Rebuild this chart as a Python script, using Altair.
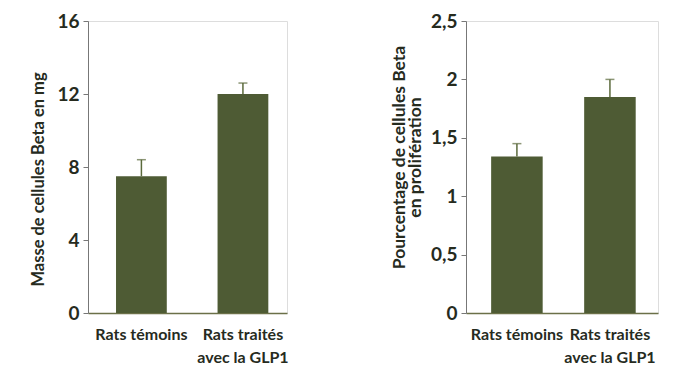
import altair as alt
import pandas as pd

categories = ["Rats témoins", "Rats traités|avec la GLP1"]
masse = [7.5, 12.0]
masse_err_top = [8.4, 12.6]
prolif = [1.34, 1.85]
prolif_err_top = [1.45, 2.0]

df1 = pd.DataFrame({"cat": categories, "val": masse, "top": masse_err_top})
df2 = pd.DataFrame({"cat": categories, "val": prolif, "top": prolif_err_top})

BAR = "#4e5b34"
ERR = "#5b6a3c"
TXT = "#262b1e"
FONT = "Lato"


def panel(df, width, ymax, yticks, title, pi, po, align, tx, ty, tfs):
    x = alt.X(
        "cat:N",
        sort=categories,
        scale=alt.Scale(paddingInner=pi, paddingOuter=po, align=align),
        axis=alt.Axis(
            title=None,
            labelAngle=0,
            labelExpr="split(datum.label, '|')",
            ticks=False,
            domainColor="#6b7048",
            domainWidth=1.5,
            labelFont=FONT,
            labelFontSize=16,
            labelFontWeight="bold",
            labelColor=TXT,
            labelPadding=13,
            labelLineHeight=23,
        ),
    )
    y = alt.Y(
        "val:Q",
        scale=alt.Scale(domain=[0, ymax], nice=False),
        axis=alt.Axis(
            title=title,
            values=yticks,
            grid=False,
            labelExpr="replace(format(datum.value, '~g'), '.', ',')",
            labelFont=FONT,
            labelFontSize=19,
            labelFontWeight="bold",
            labelColor=TXT,
            labelPadding=4,
            tickSize=5,
            tickColor="#777777",
            domainColor="#777777",
            titleFont=FONT,
            titleFontSize=tfs,
            titleFontWeight="bold",
            titleColor=TXT,
            titleX=tx,
            titleY=ty,
            titleBaseline="middle",
            titleAlign="center",
            titleLineHeight=16,
        ),
    )
    bars = alt.Chart(df).mark_bar(color=BAR).encode(x=x, y=y)
    err = alt.Chart(df).mark_rule(color=ERR, strokeWidth=1.5).encode(
        x=alt.X("cat:N", sort=categories), y="val:Q", y2="top:Q"
    )
    cap = alt.Chart(df).mark_tick(color=ERR, thickness=1.5, size=9).encode(
        x=alt.X("cat:N", sort=categories), y="top:Q"
    )
    return (bars + err + cap).properties(width=width, height=292)


left = panel(df1, 199, 16, [0, 4, 8, 12, 16], "Masse de cellules Beta en mg",
             0.5, 0.23, 0.6, -50, 158, 16.5)
right = panel(
    df2, 192, 2.5, [0, 0.5, 1, 1.5, 2, 2.5],
    ["Pourcentage de cellules Beta", "en prolifération"], 0.446, 0.255, 0.53, -67, 136, 17.5,
)

chart = (
    alt.hconcat(left, right, spacing=100)
    .resolve_scale(y="independent")
    .properties(padding={"left": 21, "top": 3, "right": 5, "bottom": 5})
    .configure_view(strokeWidth=0, stroke="transparent")
    .configure(background="white")
)

chart.save("out.html", embed_options={"renderer": "svg", "actions": False})
